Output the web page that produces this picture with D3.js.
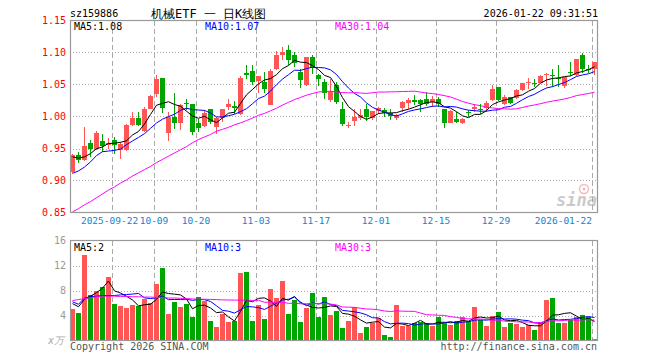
<!DOCTYPE html>
<html>
<head>
<meta charset="utf-8">
<script src="https://cdn.jsdelivr.net/npm/d3@7"></script>
<style>
  html, body { margin: 0; padding: 0; background: #fff; }
  svg { display: block; }
  text { font-family: "DejaVu Sans Mono", "Liberation Mono", monospace; }
</style>
</head>
<body>
<svg id="chart" width="660" height="360"></svg>
<script>
// ---------------- DATA ----------------
const dates = [
  "2025-09-11","2025-09-12","2025-09-15","2025-09-16","2025-09-17","2025-09-18","2025-09-19",
  "2025-09-22","2025-09-23","2025-09-24","2025-09-25","2025-09-26","2025-09-29","2025-09-30",
  "2025-10-09","2025-10-10","2025-10-13","2025-10-14","2025-10-15","2025-10-16","2025-10-17",
  "2025-10-20","2025-10-21","2025-10-22","2025-10-23","2025-10-24","2025-10-27","2025-10-28",
  "2025-10-29","2025-10-30","2025-10-31","2025-11-03","2025-11-04","2025-11-05","2025-11-06",
  "2025-11-07","2025-11-10","2025-11-11","2025-11-12","2025-11-13","2025-11-14","2025-11-17",
  "2025-11-18","2025-11-19","2025-11-20","2025-11-21","2025-11-24","2025-11-25","2025-11-26",
  "2025-11-27","2025-11-28","2025-12-01","2025-12-02","2025-12-03","2025-12-04","2025-12-05",
  "2025-12-08","2025-12-09","2025-12-10","2025-12-11","2025-12-12","2025-12-15","2025-12-16",
  "2025-12-17","2025-12-18","2025-12-19","2025-12-22","2025-12-23","2025-12-24","2025-12-25",
  "2025-12-26","2025-12-29","2025-12-30","2025-12-31","2026-01-05","2026-01-06","2026-01-07",
  "2026-01-08","2026-01-09","2026-01-12","2026-01-13","2026-01-14","2026-01-15","2026-01-16",
  "2026-01-19","2026-01-20","2026-01-21","2026-01-22"
];
const openP = [
  0.9135,0.9396,0.9318,0.9580,0.9500,0.9620,0.9547,0.9630,0.9484,0.9474,
  0.9865,0.9980,0.9776,1.0125,1.0350,1.0600,0.9750,0.9995,0.9900,1.0210,
  1.0190,0.9896,0.9850,1.0110,0.9830,0.9970,1.0150,1.0170,1.0036,1.0680,
  1.0710,1.0560,1.0540,1.0180,1.0740,1.0960,1.1040,1.0960,1.0700,1.0490,
  1.0930,1.0646,1.0540,1.0255,1.0490,1.0115,0.9865,0.9932,0.9984,1.0125,
  0.9980,1.0090,1.0100,1.0047,0.9969,1.0140,1.0213,1.0255,1.0255,1.0280,
  1.0234,1.0270,1.0125,0.9900,0.9958,0.9900,1.0068,1.0120,1.0110,1.0135,
  1.0255,1.0460,1.0200,1.0297,1.0290,1.0410,1.0526,1.0526,1.0516,1.0646,
  1.0656,1.0594,1.0480,1.0693,1.0656,1.0960,1.0745,1.0750
];
const closeP = [
  0.9396,0.9318,0.9536,0.9490,0.9745,0.9536,0.9589,0.9547,0.9568,0.9865,
  0.9984,0.9870,1.0125,1.0320,1.0580,1.0135,0.9995,0.9906,1.0187,1.0190,
  0.9760,0.9820,1.0057,0.9917,0.9970,1.0125,1.0190,1.0130,1.0600,1.0650,
  1.0540,1.0630,1.0430,1.0710,1.0960,1.1005,1.0880,1.0830,1.0570,1.0930,
  1.0760,1.0580,1.0375,1.0400,1.0230,0.9890,0.9875,0.9995,1.0020,0.9995,
  1.0080,1.0140,1.0057,1.0005,1.0020,1.0230,1.0255,1.0220,1.0190,1.0200,
  1.0276,1.0190,0.9900,1.0090,0.9917,0.9958,1.0047,1.0150,1.0095,1.0210,
  1.0430,1.0255,1.0297,1.0213,1.0410,1.0516,1.0540,1.0505,1.0630,1.0660,
  1.0640,1.0580,1.0610,1.0677,1.0896,1.0750,1.0724,1.0844
];
const highP = [
  0.9410,0.9448,0.9830,0.9630,0.9770,0.9730,0.9660,0.9680,0.9600,0.9880,
  1.0068,1.0070,1.0150,1.0335,1.0656,1.0600,1.0073,1.0360,1.0190,1.0280,
  1.0190,0.9960,1.0100,1.0110,1.0000,1.0125,1.0280,1.0240,1.0630,1.0800,
  1.0800,1.0630,1.0690,1.0740,1.1020,1.1090,1.1110,1.1010,1.0750,1.0930,
  1.0960,1.0670,1.0590,1.0580,1.0540,1.0230,0.9910,1.0115,1.0115,1.0203,
  1.0083,1.0151,1.0135,1.0125,1.0036,1.0240,1.0292,1.0333,1.0266,1.0385,
  1.0323,1.0297,1.0125,1.0109,1.0073,0.9984,1.0099,1.0203,1.0193,1.0240,
  1.0500,1.0460,1.0333,1.0307,1.0422,1.0526,1.0594,1.0583,1.0646,1.0682,
  1.0750,1.0802,1.0610,1.0854,1.0896,1.0995,1.0802,1.0854
];
const lowP = [
  0.9120,0.9280,0.9310,0.9370,0.9480,0.9450,0.9500,0.9420,0.9340,0.9460,
  0.9855,0.9850,0.9760,1.0110,1.0310,1.0057,0.9620,0.9810,0.9786,1.0100,
  0.9710,0.9760,0.9830,0.9890,0.9734,0.9920,1.0100,1.0040,1.0020,1.0580,
  1.0490,1.0370,1.0360,1.0180,1.0720,1.0880,1.0800,1.0780,1.0440,1.0480,
  1.0670,1.0480,1.0270,1.0230,1.0200,0.9850,0.9818,0.9854,0.9948,0.9932,
  0.9943,1.0036,0.9995,0.9943,0.9948,1.0073,1.0125,1.0177,1.0073,1.0161,
  1.0151,1.0151,0.9828,0.9896,0.9896,0.9880,0.9990,1.0073,1.0036,1.0073,
  1.0240,1.0245,1.0187,1.0203,1.0281,1.0401,1.0437,1.0464,1.0516,1.0474,
  1.0464,1.0464,1.0453,1.0630,1.0630,1.0672,1.0672,1.0656
];
const volume = [
  5.04,4.40,13.73,7.23,7.87,8.61,10.16,5.84,5.52,5.20,
  5.73,5.47,6.64,6.00,9.09,11.60,4.24,6.16,5.36,5.84,
  3.76,6.91,6.37,3.12,2.16,4.24,2.96,3.12,10.80,11.01,
  3.12,5.68,3.49,8.24,6.80,9.52,4.24,6.48,2.96,5.20,
  7.60,3.76,6.96,4.13,4.77,2.05,3.17,5.31,1.20,2.16,
  2.85,3.60,0.93,0.56,5.68,2.37,2.37,2.80,2.90,2.80,
  2.32,3.76,2.80,2.53,3.17,3.76,3.17,5.36,3.33,2.37,
  3.97,4.56,2.16,2.80,2.64,2.16,2.43,1.73,2.80,6.48,
  6.80,2.80,2.80,3.33,3.76,4.08,3.71,0.29
];
// moving-average values of the first bars (they depend on days before the window)
const ma5Head  = [0.937,0.935,0.937,0.942];
const ma10Head = [0.911,0.915,0.921,0.929,0.939,0.945,0.946,0.947,0.949];
const ma30Head = [0.851,0.856,0.862,0.867,0.873,0.879,0.885,0.890,0.896,0.901,
                  0.907,0.912,0.917,0.922,0.928,0.933,0.938,0.943,0.948,0.953,
                  0.959,0.964,0.968,0.972,0.977,0.980,0.983,0.987,0.990];
const vma5Head  = [5.9,5.4,6.6,7.1];
const vma10Head = [6.2,5.8,6.8,7.0,7.1,7.2,7.2,7.2,7.3];
const vma30Head = [6.40,6.55,6.70,6.85,7.00,7.10,7.10,7.10,7.05,7.05,
                   7.00,7.00,6.95,6.95,6.90,6.85,6.80,6.80,6.75,6.70,
                   6.65,6.62,6.60,6.57,6.54,6.50,6.48,6.47,6.45];
const priceTicks = [1.15,1.10,1.05,1.00,0.95,0.90,0.85];
const volTicks = [16,12,8,4];
const tickDates  = ["2025-09-22","2025-10-09","2025-10-20","2025-11-03","2025-11-17","2025-12-01","2025-12-15","2025-12-29","2026-01-22"];
const tickLabels = ["2025-09-22","10-09","10-20","11-03","11-17","12-01","12-15","12-29","2026-01-22"];
const symbol = "sz159886";
const title = "机械ETF 一 日K线图";
const stamp = "2026-01-22 09:31:51";
const priceMaLabels = ["MA5:1.08","MA10:1.07","MA30:1.04"];
const volMaLabels = ["MA5:2","MA10:3","MA30:3"];

// ---------------- HELPERS ----------------
function movingAvg(vals, n, head) {
  return vals.map((v, i) => {
    if (i < n - 1) return head[i];
    let s = 0;
    for (let k = i - n + 1; k <= i; k++) s += vals[k];
    return s / n;
  });
}
const RED = "#ff5555", GREEN = "#00a600";
const GRID = "#aaaaaa", FRAME = "#999999";
const maColors = ["#000000", "#0000ff", "#ff00ff"];

const svg = d3.select("#chart");
svg.append("rect").attr("width", 660).attr("height", 360).attr("fill", "#fff");

const L = 70, R = 598;
const x = d3.scaleBand().domain(dates).range([L, R]).padding(0);
const bw = x.bandwidth();
const yP = d3.scaleLinear().domain([0.85, 1.15]).range([212.5, 20.5]);
const yV = d3.scaleLinear().domain([0, 16]).range([340.5, 240.5]);

const bars = dates.map((d, i) => ({
  d, o: openP[i], c: closeP[i], h: highP[i], l: lowP[i], v: volume[i],
  up: closeP[i] > openP[i]
}));

// ---------------- GRID ----------------
const grid = svg.append("g");
grid.selectAll(".hp").data(priceTicks.filter(t => t < 1.149 && t > 0.851)).join("line")
  .attr("x1", L).attr("x2", R).attr("y1", d => Math.round(yP(d)) + 0.5).attr("y2", d => Math.round(yP(d)) + 0.5)
  .attr("stroke", GRID).attr("stroke-dasharray", "1,2");
grid.selectAll(".hv").data([12, 8, 4]).join("line")
  .attr("x1", L).attr("x2", R).attr("y1", d => Math.round(yV(d)) + 0.5).attr("y2", d => Math.round(yV(d)) + 0.5)
  .attr("stroke", GRID).attr("stroke-dasharray", "1,2");
tickDates.forEach(td => {
  const xx = x(td) + 0.5;
  grid.append("line").attr("x1", xx).attr("x2", xx).attr("y1", 21).attr("y2", 212)
    .attr("stroke", GRID).attr("stroke-dasharray", "5,3");
  grid.append("line").attr("x1", xx).attr("x2", xx).attr("y1", 241).attr("y2", 340)
    .attr("stroke", GRID).attr("stroke-dasharray", "5,3");
});

// ---------------- WATERMARK ----------------
const wm = svg.append("g").attr("opacity", 0.55);
wm.append("circle").attr("cx", 584).attr("cy", 189).attr("r", 4.5).attr("fill", "none").attr("stroke", "#f08080").attr("stroke-width", 1.5);
wm.append("circle").attr("cx", 584).attr("cy", 189).attr("r", 1.5).attr("fill", "#f08080");
wm.append("text").attr("x", 597).attr("y", 206).attr("text-anchor", "end")
  .attr("font-family", "DejaVu Sans, sans-serif").attr("font-style", "italic").attr("font-weight", "bold")
  .attr("font-size", 17).attr("fill", "#a0a0a0").text("sina");

// ---------------- CANDLES ----------------
const cg = svg.append("g").attr("shape-rendering", "crispEdges");
cg.selectAll(".wick").data(bars).join("line")
  .attr("x1", d => x(d.d) + 2.5).attr("x2", d => x(d.d) + 2.5)
  .attr("y1", d => yP(d.h)).attr("y2", d => yP(d.l))
  .attr("stroke", d => d.up ? RED : GREEN);
cg.selectAll(".body").data(bars).join("rect")
  .attr("x", d => x(d.d)).attr("width", bw - 1)
  .attr("y", d => yP(Math.max(d.o, d.c)))
  .attr("height", d => Math.max(1, Math.abs(yP(d.o) - yP(d.c))))
  .attr("fill", d => d.up ? RED : GREEN);

// ---------------- PRICE MAs ----------------
const pMa = [movingAvg(closeP, 5, ma5Head), movingAvg(closeP, 10, ma10Head), movingAvg(closeP, 30, ma30Head)];
const lineP = d3.line().x((v, i) => x(dates[i]) + 2.5).y(v => yP(v));
pMa.forEach((arr, k) => {
  svg.append("path").datum(arr).attr("d", lineP).attr("fill", "none")
    .attr("stroke", maColors[k]).attr("stroke-width", 1);
});

// ---------------- VOLUME ----------------
const vg = svg.append("g").attr("shape-rendering", "crispEdges");
vg.selectAll(".vb").data(bars).join("rect")
  .attr("x", d => x(d.d)).attr("width", bw - 1)
  .attr("y", d => yV(d.v)).attr("height", d => yV(0) - yV(d.v))
  .attr("fill", d => d.up ? RED : GREEN);
const vMa = [movingAvg(volume, 5, vma5Head), movingAvg(volume, 10, vma10Head), movingAvg(volume, 30, vma30Head)];
const lineV = d3.line().x((v, i) => x(dates[i]) + 2.5).y(v => yV(v));
vMa.forEach((arr, k) => {
  svg.append("path").datum(arr).attr("d", lineV).attr("fill", "none")
    .attr("stroke", maColors[k]).attr("stroke-width", 1);
});

// ---------------- FRAMES ----------------
svg.append("rect").attr("x", L + 0.5).attr("y", 20.5).attr("width", R - L - 1).attr("height", 192)
  .attr("fill", "none").attr("stroke", FRAME).attr("stroke-width", 1.2);
svg.append("rect").attr("x", L + 0.5).attr("y", 240.5).attr("width", R - L - 1).attr("height", 100)
  .attr("fill", "none").attr("stroke", FRAME).attr("stroke-width", 1.2);

// ---------------- AXES ----------------
const axP = svg.append("g").attr("transform", `translate(${L},0)`)
  .call(d3.axisLeft(yP).tickValues(priceTicks).tickSize(0).tickPadding(4).tickFormat(d3.format(".2f")));
axP.select(".domain").remove();
axP.selectAll("text").attr("fill", "#ff0000").attr("font-size", 10)
  .attr("font-family", "DejaVu Sans Mono, monospace");

const axV = svg.append("g").attr("transform", `translate(${L},0)`)
  .call(d3.axisLeft(yV).tickValues(volTicks).tickSize(0).tickPadding(4).tickFormat(d3.format("d")));
axV.select(".domain").remove();
axV.selectAll("text").attr("fill", "#999").attr("font-size", 10)
  .attr("font-family", "DejaVu Sans Mono, monospace");
svg.append("text").attr("x", 64).attr("y", 344).attr("text-anchor", "end")
  .attr("font-size", 10).attr("fill", "#aaa")
  .attr("font-family", "DejaVu Serif, Noto Sans CJK SC, serif").attr("font-style", "italic").text("x万");

const axX = svg.append("g").attr("transform", `translate(${-bw / 2},212.5)`)
  .call(d3.axisBottom(x).tickValues(tickDates).tickSize(0).tickPadding(5)
    .tickFormat(d => tickLabels[tickDates.indexOf(d)]));
axX.select(".domain").remove();
const lastTick = tickDates.length - 1;
axX.selectAll("text").attr("fill", "#1382d0").attr("font-size", 9.5)
  .attr("font-family", "DejaVu Sans Mono, monospace")
  .attr("dx", (d, i) => i === 0 ? -2.5 : 0)
  .attr("text-anchor", (d, i) => i === lastTick ? "end" : "middle");

// ---------------- TEXTS ----------------
svg.append("text").attr("x", 70).attr("y", 17).attr("font-size", 10).attr("fill", "#000").text(symbol);
svg.append("text").attr("x", 151).attr("y", 18).attr("font-size", 12).attr("fill", "#000")
  .attr("font-family", "DejaVu Sans Mono, Noto Sans CJK SC, monospace").text(title);
svg.append("text").attr("x", 598).attr("y", 17).attr("text-anchor", "end").attr("font-size", 10).attr("fill", "#000").text(stamp);

const maX = [74, 205, 335];
priceMaLabels.forEach((t, k) => {
  svg.append("text").attr("x", maX[k]).attr("y", 30).attr("font-size", 10).attr("fill", maColors[k]).text(t);
});
volMaLabels.forEach((t, k) => {
  svg.append("text").attr("x", maX[k]).attr("y", 251).attr("font-size", 10).attr("fill", maColors[k]).text(t);
});

svg.append("text").attr("x", 70).attr("y", 350).attr("font-size", 10).attr("fill", "#555").text("Copyright 2026 SINA.COM");
svg.append("text").attr("x", 597).attr("y", 350).attr("text-anchor", "end").attr("font-size", 10).attr("fill", "#555").text("http://finance.sina.com.cn");
</script>
</body>
</html>
